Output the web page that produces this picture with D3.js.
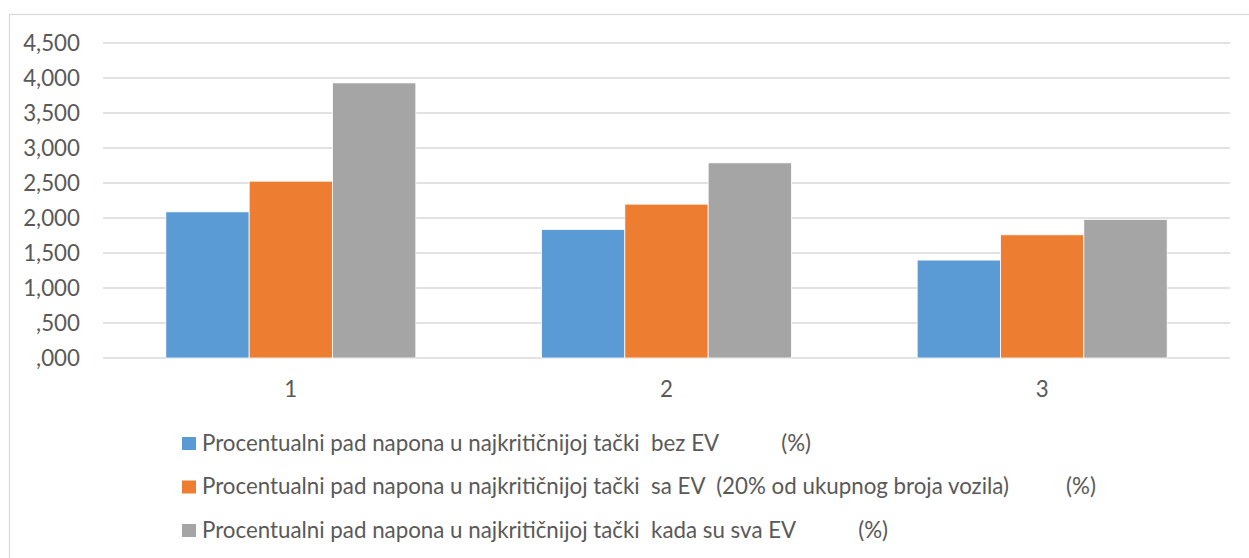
<!DOCTYPE html>
<html>
<head>
<meta charset="utf-8">
<script src="https://cdn.jsdelivr.net/npm/d3@7"></script>
<style>
  html, body { margin: 0; padding: 0; background: #fff; }
  svg text { font-family: Lato, "Open Sans", sans-serif; fill: #595959; white-space: pre; }
</style>
</head>
<body>
<svg id="chart" width="1249" height="558"></svg>
<script>
const categories = ["1", "2", "3"];
const seriesNames = [
  "Procentualni pad napona u najkritičnijoj tački  bez EV           (%)",
  "Procentualni pad napona u najkritičnijoj tački  sa EV  (20% od ukupnog broja vozila)          (%)",
  "Procentualni pad napona u najkritičnijoj tački  kada su sva EV           (%)"
];
const seriesBezEV = [2.088, 1.837, 1.399];
const seriesSaEV20 = [2.526, 2.198, 1.760];
const seriesSvaEV = [3.930, 2.788, 1.980];
const tickValues = [0, 0.5, 1, 1.5, 2, 2.5, 3, 3.5, 4, 4.5];
const tickLabels = [",000", ",500", "1,000", "1,500", "2,000", "2,500", "3,000", "3,500", "4,000", "4,500"];
const colors = ["#5B9BD5", "#ED7D31", "#A5A5A5"];

const series = [seriesBezEV, seriesSaEV20, seriesSvaEV];
const svg = d3.select("#chart");
const FONT = "Lato, 'Open Sans', sans-serif";

// outer chart border
svg.append("rect")
  .attr("x", 9.5).attr("y", 14.5)
  .attr("width", 1245).attr("height", 560)
  .attr("fill", "none").attr("stroke", "#D9D9D9").attr("stroke-width", 1.2);

const plot = { left: 103, right: 1230, top: 43, bottom: 358 };

const x0 = d3.scaleBand().domain(categories).range([plot.left, plot.right]).paddingInner(0).paddingOuter(0);
const x1 = d3.scaleBand().domain(d3.range(series.length)).range([0, x0.bandwidth() * 250 / 375.67]);
const y = d3.scaleLinear().domain([0, 4.5]).range([plot.bottom, plot.top]);

// font fitting
const probe = svg.append("text").attr("font-size", 20).attr("font-family", FONT).text("Procentualni pad napona u najkritičnijoj tački");
const w = probe.node().getComputedTextLength();
probe.remove();
const fs = 20 * 438 / w;

// gridlines
svg.append("g")
  .selectAll("line").data(tickValues).join("line")
  .attr("x1", plot.left).attr("x2", plot.right)
  .attr("y1", d => y(d)).attr("y2", d => y(d))
  .attr("stroke", "#D9D9D9").attr("stroke-width", 1.3);

// y axis labels
const yAxis = d3.axisLeft(y).tickValues(tickValues)
  .tickFormat((d, i) => tickLabels[i]).tickSize(0).tickPadding(0);
const gy = svg.append("g").attr("transform", "translate(80,0)").call(yAxis);
gy.select(".domain").remove();
gy.selectAll("text").attr("font-size", fs).attr("fill", "#595959").attr("font-family", FONT);

// bars
const groupOffset = (x0.bandwidth() - x1.range()[1]) / 2;
const groups = svg.append("g").selectAll("g").data(categories).join("g")
  .attr("transform", d => `translate(${x0(d) + groupOffset},0)`);
groups.selectAll("rect")
  .data((d, ci) => series.map((s, si) => ({ si, v: s[ci] })))
  .join("rect")
  .attr("x", d => x1(d.si))
  .attr("width", x1.bandwidth())
  .attr("y", d => y(d.v))
  .attr("height", d => y(0) - y(d.v))
  .attr("fill", d => colors[d.si])
  .attr("stroke", "#fff").attr("stroke-width", 0.8);

// x axis labels
const xAxis = d3.axisBottom(x0).tickSize(0).tickPadding(0);
const gx = svg.append("g").attr("transform", `translate(0,${plot.bottom + 23})`).call(xAxis);
gx.select(".domain").remove();
gx.selectAll("text").attr("font-size", fs).attr("fill", "#595959").attr("font-family", FONT);

// legend
const legend = svg.append("g");
const items = legend.selectAll("g").data(seriesNames).join("g")
  .attr("transform", (d, i) => `translate(182,${437 + i * 43.5})`);
items.append("rect").attr("width", 14).attr("height", 13).attr("fill", (d, i) => colors[i]);
items.append("text").attr("x", 20).attr("y", 13.5).attr("font-size", fs).attr("font-family", FONT).text(d => d);
</script>
</body>
</html>
